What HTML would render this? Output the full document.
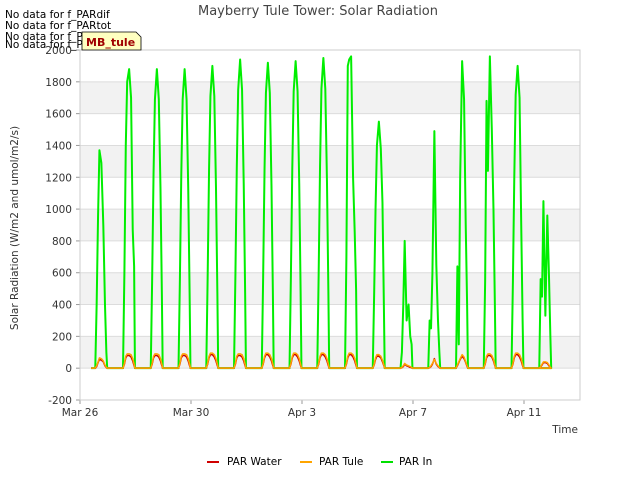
<!DOCTYPE html>
<html><head><meta charset="utf-8"><style>
body{margin:0;background:#fff;font-family:"DejaVu Sans",sans-serif}
svg text{font-family:"DejaVu Sans",sans-serif}
</style></head><body>
<svg id="c" width="640" height="480" xmlns="http://www.w3.org/2000/svg">
<g id="bands"></g><g id="grid"></g><g id="series"></g><g id="axes"></g>
<text x="318" y="15" text-anchor="middle" font-size="13" fill="#444">Mayberry Tule Tower: Solar Radiation</text>
<text x="18" y="228" transform="rotate(-90 18 228)" text-anchor="middle" font-size="10.5" fill="#333">Solar Radiation (W/m2 and umol/m2/s)</text>
<text x="578" y="433" text-anchor="end" font-size="10.5" fill="#333">Time</text>
<g font-size="10.5" fill="#000">
<text x="5" y="18">No data for f_PARdif</text><text x="5" y="29">No data for f_PARtot</text>
<text x="5" y="40">No data for f_PARdif</text><text x="5" y="48">No data for f_PARtot</text></g>
<g><path d="M82 32 H136 L141 37 V50 H82 Z" fill="#ffffc0" stroke="#000" stroke-width="0.8"/>
<text x="86" y="46" font-size="11" font-weight="bold" fill="#a00000">MB_tule</text></g>
<g font-size="10.5" fill="#000">
<line x1="207" y1="462" x2="219" y2="462" stroke="#d00000" stroke-width="2"/><text x="227" y="465">PAR Water</text>
<line x1="300" y1="462" x2="312" y2="462" stroke="#ffa500" stroke-width="2"/><text x="319" y="465">PAR Tule</text>
<line x1="381" y1="462" x2="393" y2="462" stroke="#00e000" stroke-width="2"/><text x="399" y="465">PAR In</text></g>
</svg>
<script>
const yTicks=[-200,0,200,400,600,800,1000,1200,1400,1600,1800,2000];
const xTickDays=[0,4,8,12,16];
const xTickLabels=["Mar 26","Mar 30","Apr 3","Apr 7","Apr 11"];
const hourOffsets=[0.55,0.6,0.65,0.7,0.77,0.84,0.9,0.95,0.98];
const parIn=[
[0,400,950,1370,1290,900,400,100,0],[0,600,1400,1800,1880,1700,870,640,0],
[0,560,1220,1690,1880,1690,1130,470,0],[0,560,1220,1690,1880,1690,1130,470,0],
[0,570,1240,1710,1900,1710,1140,475,0],[0,580,1260,1750,1940,1750,1160,485,0],
[0,575,1250,1730,1920,1730,1150,480,0],[0,580,1255,1740,1930,1740,1160,480,0],
[0,585,1270,1755,1950,1755,1170,490,0],[0,700,1900,1940,1960,1200,850,490,0],
[0,465,1000,1400,1550,1380,1040,400,0],[0,100,400,800,300,400,200,150,0],
[0,300,250,600,1490,650,300,100,0],[0,640,150,1200,1930,1690,900,400,0],
[0,550,1680,1240,1960,1500,1000,400,0],[0,540,1200,1720,1900,1700,900,300,0],
[0,560,450,1050,330,960,580,200,0]];
const parTule=[
[0,15,40,65,60,45,20,5,0],[0,30,75,90,90,85,60,25,0],[0,30,75,90,90,85,60,25,0],
[0,30,75,90,90,85,60,25,0],[0,30,75,95,95,85,60,25,0],[0,30,75,90,90,85,60,25,0],
[0,30,75,95,95,85,60,25,0],[0,30,75,95,95,85,60,25,0],[0,30,75,95,95,85,60,25,0],
[0,30,75,95,95,85,60,25,0],[0,25,65,85,85,75,50,20,0],[0,5,15,30,20,15,10,5,0],
[0,5,15,30,55,30,15,5,0],[0,20,40,60,85,70,40,15,0],[0,30,75,90,90,80,55,20,0],
[0,30,75,95,95,85,60,25,0],[0,10,25,40,40,35,20,5,0]];
const parWater=[
[0,10,35,55,50,40,15,3,0],[0,25,65,80,80,70,45,15,0],[0,25,65,80,80,70,45,15,0],
[0,25,65,80,80,70,45,15,0],[0,25,65,85,85,70,45,15,0],[0,25,65,80,80,70,45,15,0],
[0,25,65,85,85,70,45,15,0],[0,25,65,85,85,70,45,15,0],[0,25,65,85,85,70,45,15,0],
[0,25,65,85,85,70,45,15,0],[0,20,55,75,75,65,40,15,0],[0,3,10,25,15,10,5,3,0],
[0,3,10,25,60,25,10,3,0],[0,15,35,55,75,60,35,10,0],[0,25,65,80,80,70,45,15,0],
[0,25,65,85,85,70,45,15,0],[0,8,20,35,35,30,15,3,0]];
const NS="http://www.w3.org/2000/svg";
const X0=80,X1=580,Y0=50,Y1=400;
const xS=d=>X0+d*27.75;
const yS=v=>Y1-(v+200)/2200*(Y1-Y0);
function mk(tag,attrs,parent){const e=document.createElementNS(NS,tag);for(const k in attrs)e.setAttribute(k,attrs[k]);document.getElementById(parent).appendChild(e);return e;}
for(let i=0;i<yTicks.length-1;i++){const v=yTicks[i];
 if(v>=0&&(v/200)%2===0){const r=mk('rect',{x:X0,y:yS(v+200),width:X1-X0,height:yS(v)-yS(v+200),fill:'#f2f2f2'},'bands');
 
 }}
yTicks.forEach(v=>{const l=mk('line',{x1:X0,x2:X1,y1:yS(v),y2:yS(v),stroke:'#dcdcdc'},'grid');
 
 
 const t=mk('text',{x:X0-8,y:yS(v)+4,'text-anchor':'end','font-size':10.5,fill:'#333'},'axes');t.textContent=v;
 
 
 mk('line',{x1:X0-4,x2:X0,y1:yS(v),y2:yS(v),stroke:'#999'},'axes');});
xTickDays.forEach((d,i)=>{mk('line',{x1:xS(d),x2:xS(d),y1:Y1,y2:Y1+4,stroke:'#999'},'axes');
 const t=mk('text',{x:xS(d),y:Y1+16,'text-anchor':'middle','font-size':10.5,fill:'#333'},'axes');t.textContent=xTickLabels[i];
 
 });
const fr=mk('rect',{x:X0,y:Y0,width:X1-X0,height:Y1-Y0,fill:'none',stroke:'#ccc'},'axes');


function series(data,color,name,w){let pts=[[xS(0.4),yS(0)]];
 data.forEach((day,d)=>{day.forEach((v,j)=>pts.push([xS(d+hourOffsets[j]),yS(v)]));
  if(d<data.length-1)pts.push([xS(d+1+hourOffsets[0]),yS(0)]);});
 pts.push([xS(16.3),yS(0)]);
 const p=mk('polyline',{points:pts.map(p=>p.join(',')).join(' '),fill:'none',stroke:color,'stroke-width':w,'stroke-linejoin':'round'},'series');
 
 }
series(parIn,'#00ee00','par-in-line',2);
series(parWater,'#d00000','par-water-line',1.5);
series(parTule,'#ffa500','par-tule-line',1.5);
</script>
</body></html>
